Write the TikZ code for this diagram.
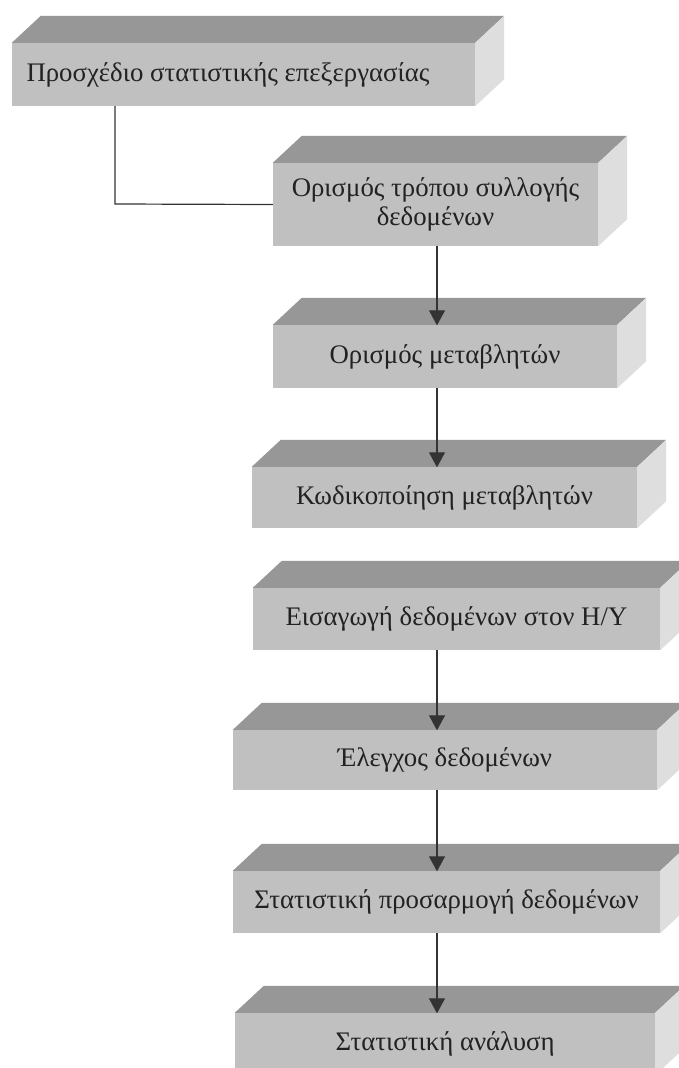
\documentclass[tikz,border=0pt]{standalone}
\usepackage{fontspec}
\setmainfont{Liberation Serif}
\usetikzlibrary{arrows.meta}
\definecolor{frontgray}{HTML}{C0C0C0}
\definecolor{topgray}{HTML}{979797}
\definecolor{sidegray}{HTML}{DEDEDE}
\definecolor{txtgray}{HTML}{222222}
\definecolor{linegray}{HTML}{333333}
\tikzset{
  cube/.style={rectangle, fill=frontgray, inner sep=0pt, align=center,
    text=txtgray, font=\fontsize{26.8}{29}\selectfont},
  link/.style={draw=linegray, line width=1.2pt},
  flowarrow/.style={link, -{Triangle[width=16pt,length=15pt]}, shorten >=-0.5pt},
}
\newcommand\cubefaces[1]{%
  \fill[topgray] (#1.north west) -- ([shift={(29pt,27pt)}]#1.north west)
     -- ([shift={(29pt,27pt)}]#1.north east) -- (#1.north east) -- cycle;
  \fill[sidegray] (#1.north east) -- ([shift={(29pt,27pt)}]#1.north east)
     -- ([shift={(29pt,27pt)}]#1.south east) -- (#1.south east) -- cycle;
}
\begin{document}
\begin{tikzpicture}[x=1pt,y=-1pt]
\useasboundingbox (0,0) rectangle (679,1068);
\clip (0,0) rectangle (679,1068);
\fill[white] (0,0) rectangle (679,1068);
% front faces (pixel coords of the reference)
\node[cube, minimum width=463pt, minimum height=63pt] (b1) at (243.5,74.5) {};
\node[txtgray, font=\fontsize{26.8}{29}\selectfont] (t1) at (228,74.5) {Προσχέδιο στατιστικής επεξεργασίας};
\node[cube, minimum width=325pt, minimum height=83pt] (b2) at (435.5,204.5) {Ορισμός τρόπου συλλογής\\δεδομένων};
\node[cube, minimum width=344pt, minimum height=63pt] (b3) at (445,356.5) {Ορισμός μεταβλητών};
\node[cube, minimum width=385pt, minimum height=61pt] (b4) at (444.5,497.5) {Κωδικοποίηση μεταβλητών};
\node[cube, minimum width=407pt, minimum height=62pt] (b5) at (456.5,619) {Εισαγωγή δεδομένων στον Η/Υ};
\node[cube, minimum width=424pt, minimum height=60pt] (b6) at (445,760) {Έλεγχος δεδομένων};
\node[cube, minimum width=427pt, minimum height=62pt] (b7) at (446.5,902) {Στατιστική προσαρμογή δεδομένων};
\node[cube, minimum width=420pt, minimum height=62pt] (b8) at (445,1044) {Στατιστική ανάλυση};
\foreach \n in {b1,b2,b3,b4,b5,b6,b7,b8}{\cubefaces{\n}}
% connectors
\coordinate (c1) at (115,204);
\draw[link] (b1.south -| c1) -- (c1) -- (b2.west);
\coordinate (ax) at (437,0);
\draw[flowarrow] (b2.south -| ax) -- (b3.north -| ax);
\draw[flowarrow] (b3.south -| ax) -- (b4.north -| ax);
\draw[flowarrow] (b5.south -| ax) -- (b6.north -| ax);
\draw[flowarrow] (b6.south -| ax) -- (b7.north -| ax);
\draw[flowarrow] (b7.south -| ax) -- (b8.north -| ax);
\end{tikzpicture}
\end{document}
